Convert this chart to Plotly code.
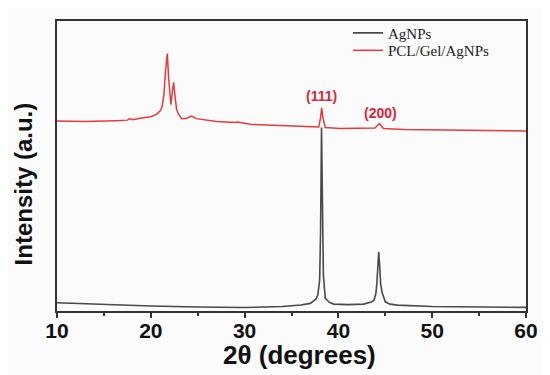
import plotly.graph_objects as go

# 2theta (degrees) and intensity (a.u.)
ag_theta = [10, 12, 15, 20, 25, 30, 34, 36, 37, 37.6, 37.8, 38.0, 38.1, 38.2, 38.3, 38.4, 38.6,
            39.0, 39.5, 41, 42.7, 43.5, 43.8, 44.0, 44.1, 44.2, 44.3, 44.4, 44.5, 44.65, 45.0,
            45.5, 46.3, 50, 55, 60]
ag_int = [8.3, 7.5, 6.5, 5, 4, 3.5, 4.5, 6, 7.7, 12, 16, 31, 81, 186, 111, 36, 13,
          9, 7, 6.5, 7, 9, 11, 18, 28, 46, 60, 46, 28, 19, 9.3,
          7, 6, 4.5, 4, 3.7]

pcl_theta = [10, 12.8, 16.3, 17.5, 17.75, 18, 19.2, 20.0, 20.6, 21.0, 21.2, 21.4, 21.55, 21.76,
             21.9, 22.05, 22.15, 22.3, 22.44, 22.6, 22.75, 23.0, 23.3, 23.8, 24.36, 24.85,
             26.0, 27.0, 29.0, 29.2, 30.6, 33.1, 36, 37.4, 37.9, 38.1, 38.22, 38.35, 38.6,
             40.2, 43.0, 43.9, 44.36, 44.8, 47, 50.9, 55, 58, 60]
pcl_int = [192.7, 192, 193, 193.5, 195, 194, 196, 197, 199.3, 203, 207, 219, 241, 261,
           236, 213, 209.3, 223, 231.7, 216, 204.3, 199, 195, 195.5, 197.7, 195,
           193, 192, 191, 191.5, 189.3, 188.3, 187, 186, 186.5, 196, 206, 196, 186,
           185, 185, 185.5, 190, 185, 184, 183.3, 183, 182.7, 182.5]

peak_labels = ["(111)", "(200)"]
peak_theta = [38.22, 44.45]
peak_label_y = [217.5, 200.5]

x_ticks = [10, 20, 30, 40, 50, 60]

fig = go.Figure()
fig.add_trace(go.Scatter(x=ag_theta, y=ag_int, mode="lines", name="AgNPs", legend="legend",
                         line=dict(color="#4a4a4a", width=1.6)))
fig.add_trace(go.Scatter(x=pcl_theta, y=pcl_int, mode="lines", name="PCL/Gel/AgNPs", legend="legend2",
                         line=dict(color="#e8383c", width=1.5)))

for lab, xt, yt in zip(peak_labels, peak_theta, peak_label_y):
    fig.add_annotation(x=xt, y=yt, text=lab, showarrow=False, xref="x", yref="y",
                       font=dict(family="Arial, Liberation Sans", size=14, color="#d8263a", weight="bold"))

fig.add_annotation(xref="paper", yref="paper", x=-0.0725, y=0.44, text="Intensity (a.u.)",
                   textangle=-90, showarrow=False, xanchor="center", yanchor="middle",
                   font=dict(family="Arial, Liberation Sans", size=24, color="#111", weight="bold"))
fig.add_annotation(xref="paper", yref="paper", x=0.518, y=-0.15, text="2θ (degrees)",
                   showarrow=False, xanchor="center", yanchor="middle",
                   font=dict(family="Arial, Liberation Sans", size=26, color="#111", weight="bold"))

legend_font = dict(family="Liberation Serif, Times New Roman", size=15, color="#222")

fig.update_layout(
    width=542, height=367,
    margin=dict(l=49, r=24, t=9, b=64),
    paper_bgcolor="#fbfbfb", plot_bgcolor="#fbfbfb",
    showlegend=True,
    legend=dict(x=0.6205, y=1.015, xanchor="left", yanchor="top",
                bgcolor="rgba(0,0,0,0)", borderwidth=0, font=legend_font),
    legend2=dict(x=0.6205, y=0.955, xanchor="left", yanchor="top",
                 bgcolor="rgba(0,0,0,0)", borderwidth=0, font=legend_font),
    xaxis=dict(range=[10, 60], tickvals=x_ticks, ticks="outside", ticklen=5, tickwidth=1.5,
               tickcolor="#333", showline=True, linecolor="#333", linewidth=2, mirror=True,
               showgrid=False, zeroline=False, ticklabelstandoff=-5,
               tickfont=dict(family="Arial, Liberation Sans", size=21, color="#111", weight="bold"),
               minor=dict(dtick=5, tick0=10, ticks="outside", ticklen=3, tickwidth=1.5, tickcolor="#333")),
    yaxis=dict(range=[0, 294], showticklabels=False, ticks="", showline=True, linecolor="#333",
               linewidth=2, mirror=True, showgrid=False, zeroline=False),
)

fig.write_html("out.html")
